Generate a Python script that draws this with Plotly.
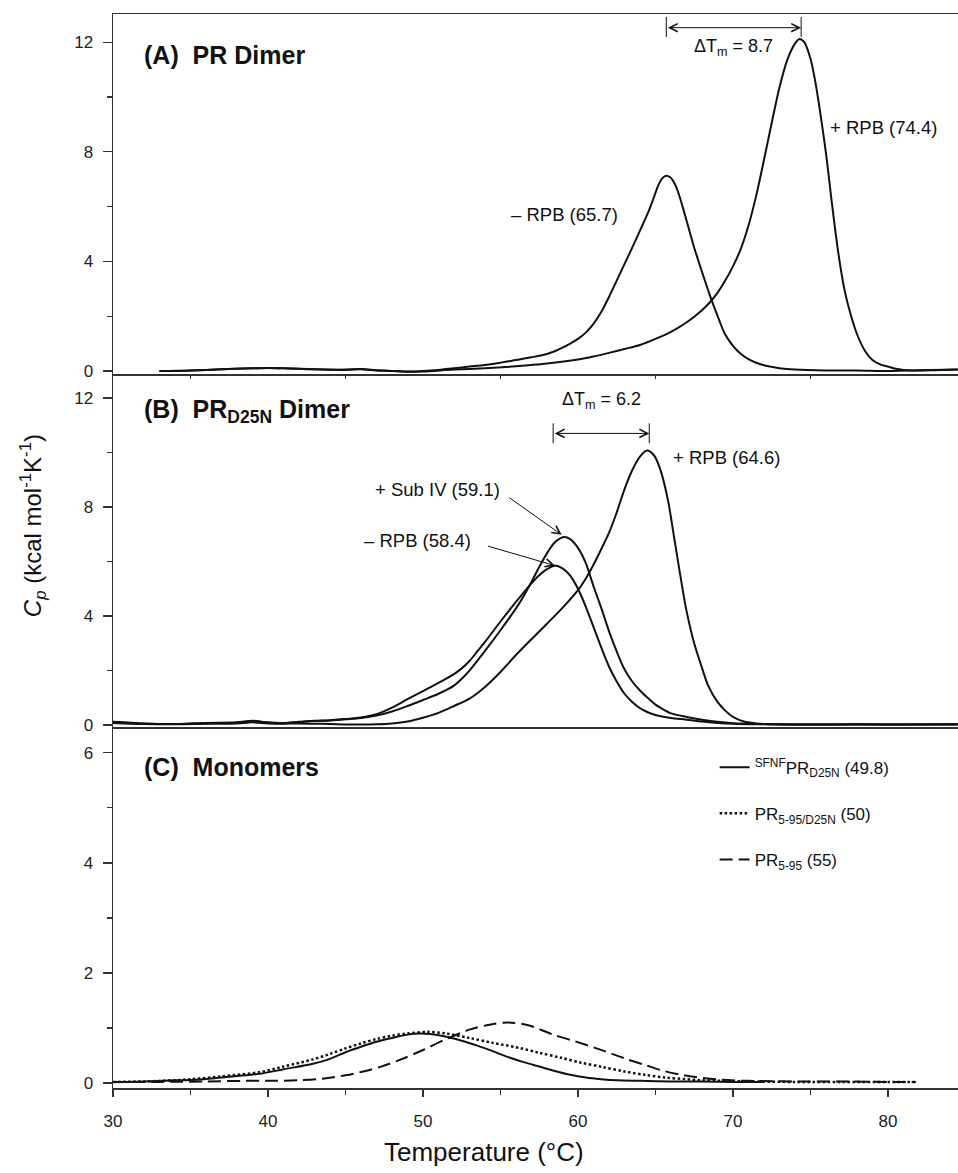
import plotly.graph_objects as go

FONT = "Liberation Sans, Arial, Helvetica, sans-serif"
INK = "#111111"
AXC = "#333333"

# ---------------- Panel A: PR dimer ----------------
a_minus_T = [33, 35, 37, 39, 40, 41, 43, 45, 46, 47, 48, 49, 50, 51, 52, 53, 54, 55, 56, 57,
             58, 58.5, 59, 59.5, 60, 60.5, 61, 61.5, 62, 62.5, 63, 63.5, 64, 64.5, 64.95, 65.2, 65.45,
             65.7, 65.95, 66.2, 66.45, 66.75, 67.1, 67.5, 68, 68.5, 69, 69.5, 70, 70.5, 71, 71.5, 72,
             72.5, 73, 74, 76, 78, 80, 82, 84.5]
a_minus_v = [0, 0.02, 0.06, 0.1, 0.11, 0.1, 0.06, 0.05, 0.07, 0.03, 0.0, -0.02, 0.0, 0.04, 0.1, 0.16,
             0.22, 0.3, 0.4, 0.5, 0.62, 0.72, 0.85, 1.0, 1.17, 1.4, 1.72, 2.15, 2.7, 3.3, 3.9, 4.5,
             5.12, 5.75, 6.42, 6.8, 7.04, 7.13, 7.07, 6.88, 6.55, 6.0, 5.3, 4.5, 3.62, 2.78, 2.02,
             1.33, 0.92, 0.63, 0.43, 0.3, 0.21, 0.15, 0.1, 0.05, 0.02, 0.02, 0.0, 0.03, 0.05]

a_plus_T = [33, 35, 37, 39, 40, 41, 43, 45, 46, 47, 48, 49, 50, 52, 54, 56, 58, 60, 61, 62, 63, 64,
            65, 66, 67, 68, 68.5, 69, 69.5, 70, 70.5, 71, 71.5, 72, 72.5, 73, 73.5, 74, 74.3, 74.6, 75,
            75.3, 75.6, 76, 76.4, 76.8, 77.2, 77.6, 78, 78.5, 79, 79.5, 80, 80.5, 81, 82, 83, 84.5]
a_plus_v = [0, 0.02, 0.06, 0.1, 0.11, 0.1, 0.06, 0.04, 0.06, 0.02, 0.0, -0.03, -0.02, 0.05, 0.1, 0.17,
            0.27, 0.42, 0.53, 0.66, 0.8, 0.95, 1.17, 1.43, 1.77, 2.22, 2.5, 2.85, 3.3, 3.82, 4.45, 5.3,
            6.4, 7.7, 9.05, 10.35, 11.35, 11.95, 12.12, 12.0, 11.4, 10.6, 9.55, 7.95, 6.05, 4.3, 2.95,
            2.05, 1.35, 0.75, 0.4, 0.24, 0.16, 0.08, 0.04, 0.02, 0.03, 0.05]

tm_A = [65.7, 74.4]

# ---------------- Panel B: PR D25N dimer ----------------
b_minus_T = [30, 32, 34, 36, 38, 39, 40, 41, 42, 43, 44, 45, 46, 47, 48, 49, 50, 51, 52, 52.5, 53,
             53.5, 54, 55, 56, 57, 57.5, 58, 58.5, 59, 59.5, 60, 60.5, 61, 61.5, 62, 62.5, 63, 63.5, 64,
             64.5, 65, 66, 67, 68, 69, 70, 72, 75, 78, 81, 84.5]
b_minus_v = [0.12, 0.06, 0.04, 0.08, 0.1, 0.16, 0.1, 0.08, 0.12, 0.16, 0.18, 0.22, 0.28, 0.4, 0.64,
             0.95, 1.25, 1.55, 1.87, 2.08, 2.35, 2.7, 3.05, 3.8, 4.52, 5.2, 5.5, 5.72, 5.85, 5.75, 5.48,
             5.0, 4.35, 3.6, 2.85, 2.15, 1.6, 1.15, 0.85, 0.62, 0.47, 0.37, 0.26, 0.2, 0.13, 0.08, 0.05,
             0.03, 0.02, 0.03, 0.02, 0.03]

b_sub_T = [30, 32, 34, 36, 38, 39, 40, 41, 42, 43, 44, 45, 46, 47, 48, 49, 50, 51, 52, 52.5, 53, 54,
           55, 56, 56.5, 57, 57.5, 58, 58.5, 59.1, 59.5, 60, 60.5, 61, 61.5, 62, 62.5, 63, 63.5, 64,
           64.5, 65, 65.5, 66, 67, 68, 69, 70, 72, 75, 78, 81, 84.5]
b_sub_v = [0.1, 0.05, 0.04, 0.07, 0.09, 0.14, 0.09, 0.07, 0.11, 0.15, 0.17, 0.21, 0.26, 0.35, 0.5,
           0.7, 0.92, 1.15, 1.45, 1.7, 2.0, 2.72, 3.48, 4.28, 4.74, 5.25, 5.8, 6.3, 6.7, 6.9, 6.82, 6.5,
           5.95, 5.1, 4.3, 3.45, 2.7, 2.05, 1.6, 1.27, 1.0, 0.75, 0.58, 0.43, 0.3, 0.2, 0.12, 0.07,
           0.04, 0.02, 0.03, 0.02, 0.03]

b_plus_T = [30, 32, 34, 36, 38, 39, 40, 41, 42, 43, 44, 45, 46, 47, 48, 49, 50, 51, 52, 53, 54, 55, 56,
            57, 58, 59, 60, 60.5, 61, 61.5, 62, 62.5, 63, 63.5, 64, 64.45, 64.9, 65.3, 65.8, 66.2, 66.6,
            67, 67.5, 68, 68.4, 69, 69.5, 70, 70.7, 71.5, 72, 75, 78, 81, 84.5]
b_plus_v = [0.08, 0.04, 0.03, 0.05, 0.06, 0.1, 0.06, 0.05, 0.06, 0.05, 0.04, 0.02, 0.02, 0.03, 0.06,
            0.13, 0.27, 0.45, 0.7, 0.97, 1.4, 1.95, 2.57, 3.15, 3.72, 4.3, 4.95, 5.37, 5.88, 6.45, 7.05,
            7.8, 8.65, 9.35, 9.85, 10.07, 9.9, 9.4, 8.27, 6.9, 5.5, 4.2, 3.0, 2.1, 1.45, 0.85, 0.53,
            0.3, 0.13, 0.06, 0.04, 0.02, 0.02, 0.02, 0.02]

tm_B = [58.4, 64.6]
tm_B_sub = 59.1

# ---------------- Panel C: monomers ----------------
c_sfnf_T = [30, 32, 34, 35.4, 37, 38.5, 39.5, 41, 42.9, 44, 45, 46, 47, 48, 49, 49.8, 50.5, 51.5, 52.5,
            53.5, 54.5, 55.4, 56.5, 57.5, 58.5, 59.5, 60.5, 61.5, 62.5, 64, 66, 68, 70, 72]
c_sfnf_v = [0.02, 0.03, 0.05, 0.06, 0.1, 0.14, 0.17, 0.25, 0.35, 0.44, 0.56, 0.66, 0.75, 0.82, 0.88,
            0.9, 0.89, 0.84, 0.77, 0.68, 0.58, 0.48, 0.38, 0.3, 0.22, 0.15, 0.1, 0.07, 0.05, 0.04, 0.03,
            0.03, 0.02, 0.02]

c_d25n_T = [30, 32, 34, 35, 37, 39.5, 41, 42.9, 44, 45, 46, 47, 48, 49, 50.3, 51.5, 53, 54.5, 56.2,
            57.5, 58.9, 60.2, 61.6, 63, 64.3, 65.6, 67, 68, 69.2, 71, 74, 77, 80, 81.8]
c_d25n_v = [0.02, 0.03, 0.05, 0.07, 0.12, 0.2, 0.3, 0.43, 0.53, 0.63, 0.72, 0.8, 0.86, 0.9, 0.93, 0.9,
            0.82, 0.73, 0.64, 0.55, 0.46, 0.37, 0.29, 0.21, 0.15, 0.1, 0.07, 0.05, 0.04, 0.03, 0.02,
            0.02, 0.02, 0.02]

c_595_T = [30, 33, 36, 38.6, 40, 42, 43.5, 45, 46, 47.2, 48.5, 50, 51.5, 53, 54.3, 55.5, 56.8, 58.4,
           59.8, 61.1, 62.2, 63.2, 64.3, 65.4, 66.5, 67.6, 69.2, 71, 74, 77, 80, 81.8]
c_595_v = [0.02, 0.02, 0.03, 0.04, 0.04, 0.05, 0.08, 0.14, 0.2, 0.29, 0.42, 0.6, 0.8, 0.97, 1.06, 1.1,
           1.05, 0.88, 0.76, 0.64, 0.53, 0.43, 0.33, 0.23, 0.16, 0.11, 0.06, 0.04, 0.03, 0.03, 0.02,
           0.02]

c_names = ["<sup>SFNF</sup>PR<sub>D25N</sub> (49.8)",
           "PR<sub>5-95/D25N</sub> (50)",
           "PR<sub>5-95</sub> (55)"]

x_range = [30, 84.52]

fig = go.Figure()

def curve(T, v, xa, ya, name=None, dash="solid", width=2, show=False, group=None):
    fig.add_trace(go.Scatter(x=T, y=v, xaxis=xa, yaxis=ya, mode="lines", name=name,
                             showlegend=show, legendgroup=group, hoverinfo="skip",
                             line=dict(color=INK, width=width, dash=dash, shape="spline",
                                       smoothing=0.9)))

curve(a_minus_T, a_minus_v, "x", "y")
curve(a_plus_T, a_plus_v, "x", "y")
curve(b_minus_T, b_minus_v, "x2", "y2")
curve(b_sub_T, b_sub_v, "x2", "y2")
curve(b_plus_T, b_plus_v, "x2", "y2")
curve(c_sfnf_T, c_sfnf_v, "x3", "y3", name=c_names[0], show=True, group="g1")
curve(c_d25n_T, c_d25n_v, "x3", "y3", name=c_names[1], dash="2.5px,2.5px", width=2.5, show=True, group="g2")
curve(c_595_T, c_595_v, "x3", "y3", name=c_names[2], dash="13px,6px", show=True, group="g3")

H = 1074.0
dom_C = [0, 361 / H]
dom_B = [361 / H, 714 / H]
dom_A = [714 / H, 1]

tickfont = dict(family=FONT, size=17, color="#222")
xcommon = dict(range=x_range, showline=True, linecolor=AXC, linewidth=1.5, showgrid=False,
               zeroline=False, domain=[0, 1])
ycommon = dict(showline=True, linecolor=AXC, linewidth=1.5, showgrid=False, zeroline=False,
               ticks="outside", ticklen=9, tickwidth=1.2, tickcolor=AXC, tickfont=tickfont,
               ticklabelstandoff=6)

fig.update_layout(
    width=958, height=1173,
    margin=dict(l=113, r=0, t=14, b=85),
    paper_bgcolor="white", plot_bgcolor="white",
    font=dict(family=FONT, color=INK),
    hovermode=False,
    xaxis=dict(**xcommon, anchor="y", mirror=True, ticks="outside", ticklen=3, dtick=10, tick0=35,
               tickcolor=AXC, showticklabels=False),
    xaxis2=dict(**xcommon, anchor="y2", ticks="", showticklabels=False),
    xaxis3=dict(**xcommon, anchor="y3", ticks="outside", ticklen=7, tickwidth=1.2, tickcolor=AXC,
                dtick=10, tick0=30, tickfont=tickfont, ticklabelstandoff=10,
                minor=dict(ticks="outside", ticklen=5, dtick=5, tick0=30, tickcolor=AXC, tickwidth=1.2)),
    yaxis=dict(**ycommon, domain=dom_A, anchor="x", range=[-0.11, 13.03], dtick=4, tick0=0,
               minor=dict(ticks="outside", ticklen=5, dtick=2, tick0=0, tickcolor=AXC, tickwidth=1.2)),
    yaxis2=dict(**ycommon, domain=dom_B, anchor="x2", range=[-0.07, 12.88], dtick=4, tick0=0,
                minor=dict(ticks="outside", ticklen=5, dtick=2, tick0=0, tickcolor=AXC, tickwidth=1.2)),
    yaxis3=dict(**ycommon, domain=dom_C, anchor="x3", range=[-0.09, 6.47], dtick=2, tick0=0,
                minor=dict(ticks="outside", ticklen=5, dtick=1, tick0=0, tickcolor=AXC, tickwidth=1.2)),
    legend=dict(x=0.712, y=0.315, xanchor="left", yanchor="top", bgcolor="rgba(0,0,0,0)",
                font=dict(family=FONT, size=17, color=INK), tracegroupgap=21),
    showlegend=True,
)

ann = []
lab = dict(family=FONT, size=18.5, color=INK)
title_font = dict(family=FONT, size=25, color=INK)
dfont = dict(family=FONT, size=18, color=INK)

def text(x, y, t, xr, yr, xanchor="left", font=lab):
    ann.append(dict(x=x, y=y, xref=xr, yref=yr, text=t, showarrow=False, xanchor=xanchor,
                    yanchor="middle", font=font))

# panel titles
text(31.85, 11.53, "<b>(A)  PR Dimer</b>", "x", "y", font=title_font)
text(31.85, 11.52, "<b>(B)  PR<sub>D25N</sub> Dimer</b>", "x2", "y2", font=title_font)
text(31.85, 5.75, "<b>(C)  Monomers</b>", "x3", "y3", font=title_font)

# panel A labels
text(62.71, 5.72, "– RPB (%.1f)" % tm_A[0], "x", "y", xanchor="right")
text(76.11, 8.88, "+ RPB (%.1f)" % tm_A[1], "x", "y")
text((tm_A[0] + tm_A[1]) / 2, 11.79, "ΔT<sub>m</sub> = %.1f" % (tm_A[1] - tm_A[0]), "x", "y",
     xanchor="center", font=dfont)

# panel B labels
text(55.07, 8.66, "+ Sub IV (%.1f)" % tm_B_sub, "x2", "y2", xanchor="right")
text(53.23, 6.76, "– RPB (%.1f)" % tm_B[0], "x2", "y2", xanchor="right")
text(65.98, 9.8, "+ RPB (%.1f)" % tm_B[1], "x2", "y2")
text((tm_B[0] + tm_B[1]) / 2, 11.89, "ΔT<sub>m</sub> = %.1f" % (tm_B[1] - tm_B[0]), "x2", "y2",
     xanchor="center", font=dfont)

# delta-Tm double arrows
shapes = []
def dtm(tms, level, lo, hi, xr, yr):
    ann.append(dict(x=tms[1], y=level, ax=tms[0], ay=level, xref=xr, yref=yr, axref=xr, ayref=yr,
                    text="", showarrow=True, arrowhead=5, startarrowhead=5, arrowside="end+start",
                    arrowsize=1.6, startarrowsize=1.6, arrowwidth=1, arrowcolor=INK))
    for t in tms:
        shapes.append(dict(type="line", xref=xr, yref=yr, x0=t, x1=t, y0=lo, y1=hi,
                           line=dict(color=INK, width=1)))

dtm(tm_A, 12.53, 12.19, 12.92, "x", "y")
dtm(tm_B, 10.70, 10.34, 11.07, "x2", "y2")

# pointer arrows in panel B
def pointer(x, y, ax, ay):
    ann.append(dict(x=x, y=y, ax=ax, ay=ay, xref="x2", yref="y2", axref="x2", ayref="y2", text="",
                    showarrow=True, arrowhead=5, arrowsize=1.6, arrowwidth=1, arrowcolor=INK))

pointer(58.95, 6.98, 55.48, 8.38)
pointer(58.52, 5.85, 54.10, 6.58)

# axis titles
ann.append(dict(x=-0.0947, y=0.524, xref="paper", yref="paper", textangle=-90, showarrow=False,
                text="<i>C<sub>p</sub></i> (kcal mol<sup>-1</sup>K<sup>-1</sup>)",
                font=dict(family=FONT, size=24, color=INK), xanchor="center", yanchor="middle"))
ann.append(dict(x=0.439, y=-0.0596, xref="paper", yref="paper", showarrow=False,
                text="Temperature (°C)", font=dict(family=FONT, size=26, color=INK),
                xanchor="center", yanchor="middle"))

fig.update_layout(annotations=ann, shapes=shapes)
fig.write_html("out.html", config={"displayModeBar": False, "staticPlot": True},
               post_script="document.body.style.margin='0';document.body.style.overflow='hidden';")
